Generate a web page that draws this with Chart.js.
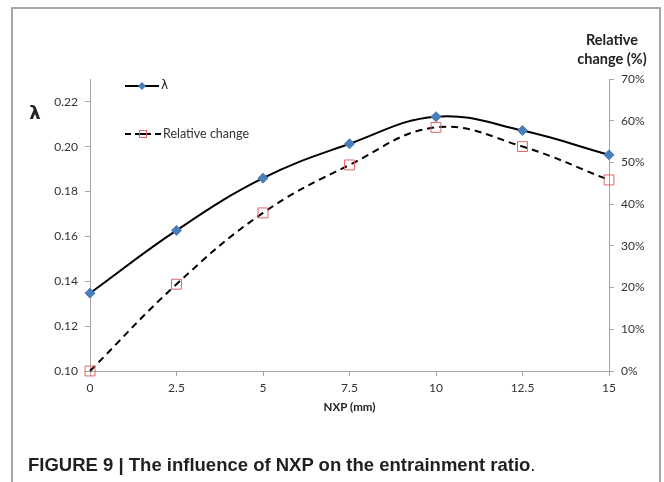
<!DOCTYPE html>
<html>
<head>
<meta charset="utf-8">
<script src="https://cdn.jsdelivr.net/npm/chart.js@4"></script>
<style>
  html, body { margin: 0; padding: 0; background: #fff; }
  #wrap { position: relative; width: 664px; height: 482px; overflow: hidden; }
  #frame { position: absolute; left: 11px; top: 7px; width: 650px; height: 490px; border: 2px solid #a6a6a6; box-sizing: border-box; }
  #c { position: absolute; left: 0; top: 0; }
  #caption { position: absolute; left: 28px; top: 455px; font-family: "Liberation Sans Narrow", "Liberation Sans", Arial, sans-serif; font-size: 18.5px; line-height: 19px; color: #231f20; white-space: nowrap; }
  #caption b { font-weight: bold; }
</style>
</head>
<body>
<div id="wrap">
  <div id="frame"></div>
  <canvas id="c" width="664" height="482"></canvas>
  <div id="caption"><b>FIGURE 9 | The influence of NXP on the entrainment ratio</b>.</div>
</div>
<script>
// ---- data ----
const nxp = [0, 2.5, 5, 7.5, 10, 12.5, 15];
const lambdaValues = [0.1347, 0.1627, 0.1860, 0.2013, 0.2134, 0.2072, 0.1964];
const relativeChange = [0, 20.8, 37.9, 49.4, 58.4, 53.8, 45.8];
const leftTicks = [0.10, 0.12, 0.14, 0.16, 0.18, 0.20, 0.22];
const rightTicks = [0, 10, 20, 30, 40, 50, 60, 70];
const xTicks = [0, 2.5, 5, 7.5, 10, 12.5, 15];

const AXIS = '#a6a6a6';
const TXT = '#333333';
const TICKFONT = { family: 'Lato, "Open Sans", sans-serif', size: 12 };

const extraText = {
  id: 'extraText',
  afterDraw(chart) {
    const { ctx, chartArea } = chart;
    ctx.save();
    // left axis title
    ctx.fillStyle = '#222';
    ctx.font = 'bold 18px "DejaVu Sans", sans-serif';
    ctx.textAlign = 'center';
    ctx.textBaseline = 'middle';
    ctx.fillText('λ', 35, 114);
    // right axis title
    ctx.font = 'bold 14.5px Lato, "Open Sans", sans-serif';
    ctx.fillText('Relative', 612, 40);
    ctx.fillText('change (%)', 612, 59);
    // x axis title
    ctx.font = 'bold 11.5px Lato, "Open Sans", sans-serif';
    ctx.fillText('NXP (mm)', (chartArea.left + chartArea.right) / 2, 407);

    // legend: lambda
    ctx.strokeStyle = '#000';
    ctx.lineWidth = 2;
    ctx.setLineDash([]);
    ctx.beginPath(); ctx.moveTo(125, 86); ctx.lineTo(159, 86); ctx.stroke();
    ctx.fillStyle = '#4a7ebb';
    ctx.beginPath();
    ctx.moveTo(142, 82); ctx.lineTo(146, 86); ctx.lineTo(142, 90); ctx.lineTo(138, 86); ctx.closePath();
    ctx.fill();
    ctx.fillStyle = '#222';
    ctx.textAlign = 'left';
    ctx.font = '12px "DejaVu Sans", sans-serif';
    ctx.fillText('λ', 161, 86);

    // legend: relative change
    ctx.strokeStyle = '#000';
    ctx.lineWidth = 2;
    ctx.setLineDash([6, 4]);
    ctx.beginPath(); ctx.moveTo(125, 134); ctx.lineTo(161, 134); ctx.stroke();
    ctx.setLineDash([]);
    ctx.fillStyle = '#fff';
    ctx.fillRect(139, 130, 8, 8);
    ctx.beginPath(); ctx.moveTo(139, 134); ctx.lineTo(147, 134); ctx.strokeStyle = '#000'; ctx.lineWidth = 2; ctx.stroke();
    ctx.strokeStyle = '#e06666';
    ctx.lineWidth = 1;
    ctx.strokeRect(139.5, 130.5, 7, 7);
    ctx.fillStyle = '#333';
    ctx.font = '12.5px Lato, "Open Sans", sans-serif';
    ctx.fillText('Relative change', 163, 134);
    ctx.restore();
  }
};

new Chart(document.getElementById('c'), {
  type: 'line',
  data: {
    datasets: [
      {
        label: 'λ',
        yAxisID: 'y',
        data: nxp.map((x, i) => ({ x, y: lambdaValues[i] })),
        borderColor: '#000',
        borderWidth: 2,
        tension: 0.4,
        pointStyle: 'rectRot',
        pointRadius: 5,
        pointBackgroundColor: '#4a7ebb',
        pointBorderColor: '#4a7ebb',
        pointBorderWidth: 1,
        clip: false,
        order: 1
      },
      {
        label: 'Relative change',
        yAxisID: 'y1',
        data: nxp.map((x, i) => ({ x, y: relativeChange[i] })),
        borderColor: '#000',
        borderWidth: 2,
        borderDash: [7, 5],
        tension: 0.4,
        pointStyle: 'rect',
        pointRadius: 7,
        pointBackgroundColor: 'rgba(0,0,0,0)',
        pointBorderColor: '#e06666',
        pointBorderWidth: 1,
        clip: false,
        order: 2
      }
    ]
  },
  options: {
    responsive: false,
    animation: false,
    events: [],
    layout: { padding: { top: 79, bottom: 81, left: 0, right: 0 } },
    plugins: { legend: { display: false }, tooltip: { enabled: false } },
    scales: {
      x: {
        type: 'linear',
        min: 0, max: 15,
        afterFit: s => { s.height = 30; },
        afterBuildTicks: s => { s.ticks = xTicks.map(v => ({ value: v })); },
        ticks: { font: TICKFONT, color: TXT, padding: 5, maxRotation: 0, callback: v => String(v) },
        grid: { drawOnChartArea: false, drawTicks: true, tickLength: 5, color: AXIS },
        border: { display: true, color: AXIS, width: 1 }
      },
      y: {
        type: 'linear',
        position: 'left',
        min: 0.10, max: 0.2302,
        afterFit: s => { s.width = 90; },
        afterBuildTicks: s => { s.ticks = leftTicks.map(v => ({ value: v })); },
        ticks: { font: TICKFONT, color: TXT, padding: 7, callback: v => v.toFixed(2) },
        grid: { drawOnChartArea: false, drawTicks: true, tickLength: 5, color: AXIS },
        border: { display: true, color: AXIS, width: 1 }
      },
      y1: {
        type: 'linear',
        position: 'right',
        min: 0, max: 70,
        afterFit: s => { s.width = 55; },
        afterBuildTicks: s => { s.ticks = rightTicks.map(v => ({ value: v })); },
        ticks: { font: TICKFONT, color: TXT, padding: 7, callback: v => v + '%' },
        grid: { drawOnChartArea: false, drawTicks: true, tickLength: 5, color: AXIS },
        border: { display: true, color: AXIS, width: 1 }
      }
    }
  },
  plugins: [extraText]
});
</script>
</body>
</html>
